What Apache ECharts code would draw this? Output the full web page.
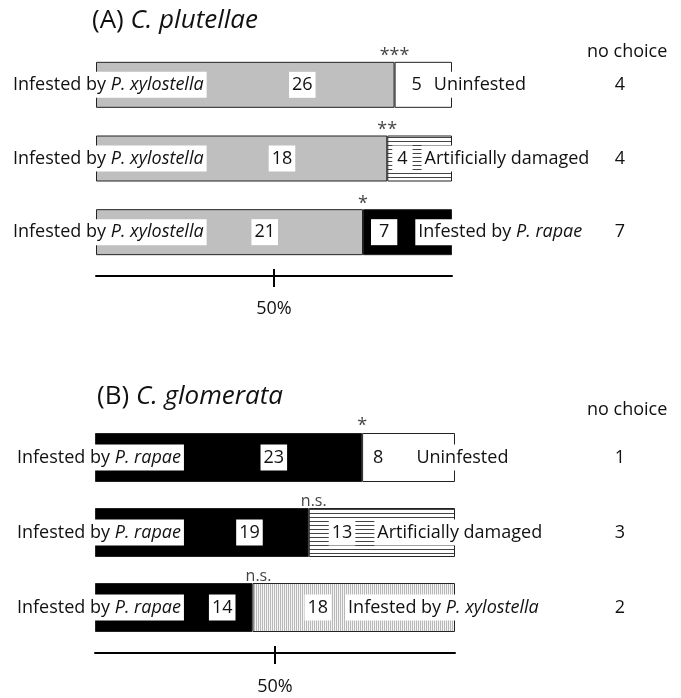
<!DOCTYPE html>
<html><head><meta charset="utf-8">
<script src="https://cdn.jsdelivr.net/npm/echarts@6/dist/echarts.min.js"></script>
<style>html,body{margin:0;padding:0;background:#fff}#c{width:681px;height:698px}</style>
</head><body><div id="c"></div>
<script>
// ---- Panel A: C. plutellae ----
const titleA = ['(A) ', 'C. plutellae'];
const leftNamesA = ['Infested by P. xylostella', 'Infested by P. xylostella', 'Infested by P. xylostella'];
const rightNamesA = ['Uninfested', 'Artificially damaged', 'Infested by P. rapae'];
const leftCountsA = [26, 18, 21];
const rightCountsA = [5, 4, 7];
const noChoiceA = [4, 4, 7];
const sigA = ['***', '**', '*'];
// ---- Panel B: C. glomerata ----
const titleB = ['(B) ', 'C. glomerata'];
const leftNamesB = ['Infested by P. rapae', 'Infested by P. rapae', 'Infested by P. rapae'];
const rightNamesB = ['Uninfested', 'Artificially damaged', 'Infested by P. xylostella'];
const leftCountsB = [23, 19, 14];
const rightCountsB = [8, 13, 18];
const noChoiceB = [1, 3, 2];
const sigB = ['*', 'n.s.', 'n.s.'];
// ---- axis ----
const tickValues = [0.5];
const tickLabels = ['50%'];
const noChoiceHeader = 'no choice';

const FONT = "'Open Sans', sans-serif";
const TXT = '#111';
const FS = 18;

function hatch() {
  const c = document.createElement('canvas'); c.width = 4; c.height = 4;
  const g = c.getContext('2d'); g.fillStyle = '#fff'; g.fillRect(0, 0, 4, 4);
  g.fillStyle = '#444'; g.fillRect(0, 1, 4, 1);
  return { image: c, repeat: 'repeat' };
}
function vstripe() {
  const c = document.createElement('canvas'); c.width = 2; c.height = 2;
  const g = c.getContext('2d'); g.fillStyle = '#f4f4f4'; g.fillRect(0, 0, 2, 2);
  g.fillStyle = '#b8b8b8'; g.fillRect(0, 0, 1, 2);
  return { image: c, repeat: 'repeat' };
}

function richName(name, bg) {
  const m = name.match(/^(.*?)(P\. .*)$/);
  if (m) return bg ? `{br|${m[1]}}{bi|${m[2]}}` : `{r|${m[1]}}{i|${m[2]}}`;
  return bg ? `{bo|${name}}` : `{r|${name}}`;
}
const baseText = { fontFamily: FONT, fontSize: FS, color: TXT, lineHeight: 18 };
const richBase = {
  r: { ...baseText },
  i: { ...baseText, fontStyle: 'italic' },
  n: { ...baseText, backgroundColor: '#fff', padding: [4, 3] },
  g: { ...baseText },
  br: { ...baseText, backgroundColor: '#fff', padding: [4, 0, 4, 3] },
  bi: { ...baseText, fontStyle: 'italic', backgroundColor: '#fff', padding: [4, 3, 4, 0] },
  bo: { ...baseText, backgroundColor: '#fff', padding: [4, 3] }
};

const panels = [
  { title: titleA, left: leftNamesA, right: rightNamesA, lc: leftCountsA, rc: rightCountsA, nc: noChoiceA, sig: sigA,
    grid: { left: 96, width: 356, top: 48, height: 221 }, barW: 46, xOff: 7, nameMargin: 86, ncMargin: 168,
    leftFill: ['#bfbfbf', '#bfbfbf', '#bfbfbf'], rightFill: ['#fff', hatch(), '#000'],
    numDist: [79, 92, 85], rNumDist: [14, 5, 8], rNumPad: [3, 5, 8], gap: [6, 9, 18],
    sigDist: [10, 10, 10], sigOff: [[0, 0], [0, 0], [0, 0]],
    titleTop: 3, titleLeft: 87, ncTop: 38, labelMargin: 24 },
  { title: titleB, left: leftNamesB, right: rightNamesB, lc: leftCountsB, rc: rightCountsB, nc: noChoiceB, sig: sigB,
    grid: { left: 95, width: 360, top: 420, height: 225 }, barW: 49, xOff: 8, nameMargin: 81, ncMargin: 165,
    leftFill: ['#000', '#000', '#000'], rightFill: ['#fff', hatch(), vstripe()],
    numDist: [75, 46, 17], rNumDist: [8, 20, 52], rNumPad: [3, 3, 3], gap: [27, 19, 14],
    sigDist: [12, 12, 12], sigOff: [[0, 0], [5, 0], [6, 0]],
    titleTop: 379, titleLeft: 92, ncTop: 396, labelMargin: 25 }
];

const option = { animation: false, backgroundColor: '#fff', title: [], grid: [], xAxis: [], yAxis: [], series: [] };

panels.forEach((p, k) => {
  const ids = p.lc.map((_, i) => 'p' + k + 'c' + i);
  const lShare = p.lc.map((v, i) => v / (v + p.rc[i]));
  const rShare = p.rc.map((v, i) => v / (p.lc[i] + v));
  option.title.push({
    text: p.title[0] + '{i|' + p.title[1] + '}', left: p.titleLeft, top: p.titleTop,
    textStyle: { fontFamily: FONT, fontSize: 26, fontWeight: 'normal', color: TXT,
      rich: { i: { fontFamily: FONT, fontSize: 26, fontStyle: 'italic', color: TXT } } }
  });
  option.title.push({
    text: noChoiceHeader, left: 582, top: p.ncTop,
    textStyle: { fontFamily: FONT, fontSize: FS, fontWeight: 'normal', color: TXT }
  });
  option.grid.push(p.grid);
  const xa = option.xAxis.length;
  option.xAxis.push({
    type: 'value', gridIndex: k, min: 0, max: 1, offset: p.xOff, position: 'bottom',
    axisLine: { show: true, lineStyle: { color: '#000', width: 2 } },
    axisTick: { show: true, customValues: tickValues, length: 11, lineStyle: { color: '#000', width: 2 } },
    axisLabel: { show: true, customValues: tickValues, margin: p.labelMargin, fontFamily: FONT, fontSize: FS, color: TXT,
      formatter: (v) => tickLabels[tickValues.indexOf(v)] ?? '' },
    splitLine: { show: false }
  });
  option.xAxis.push({
    type: 'value', gridIndex: k, min: 0, max: 1, offset: p.xOff, position: 'bottom',
    axisLine: { show: false },
    axisTick: { show: true, inside: true, customValues: tickValues, length: 7, lineStyle: { color: '#000', width: 2 } },
    axisLabel: { show: false }, splitLine: { show: false }
  });
  const ya = option.yAxis.length;
  option.yAxis.push({
    type: 'category', gridIndex: k, data: ids, inverse: true, z: 5,
    axisLine: { show: false }, axisTick: { show: false },
    axisLabel: { align: 'left', margin: p.nameMargin, backgroundColor: '#fff', padding: [4, 3],
      formatter: (v, i) => richName(p.left[i], false), rich: richBase }
  });
  option.yAxis.push({
    type: 'category', gridIndex: k, data: ids, inverse: true, position: 'right',
    axisLine: { show: false }, axisTick: { show: false },
    axisLabel: { align: 'center', margin: p.ncMargin, fontFamily: FONT, fontSize: FS, color: TXT,
      formatter: (v, i) => String(p.nc[i]) }
  });
  const border = { borderColor: '#222', borderWidth: 1 };
  option.series.push({
    type: 'bar', xAxisIndex: xa, yAxisIndex: ya, stack: 's' + k, barWidth: p.barW, z: 2,
    data: lShare.map((v, i) => ({
      value: v, itemStyle: { color: p.leftFill[i], ...border },
      label: { show: true, position: 'insideRight', distance: p.numDist[i],
        formatter: `{n|${p.lc[i]}}`, rich: richBase }
    }))
  });
  option.series.push({
    type: 'bar', xAxisIndex: xa, yAxisIndex: ya, stack: 's' + k, barWidth: p.barW, z: 2,
    data: rShare.map((v, i) => ({
      value: v, itemStyle: { color: p.rightFill[i], ...border },
      label: { show: true, position: 'insideLeft', distance: p.rNumDist[i],
        formatter: `{n|${p.rc[i]}}{g| }` + richName(p.right[i], true),
        rich: { ...richBase, n: { ...richBase.n, padding: [4, p.rNumPad[i]] }, g: { ...baseText, width: p.gap[i] } } }
    }))
  });
  option.series.push({
    type: 'scatter', xAxisIndex: xa, yAxisIndex: ya, symbolSize: 1, z: 6,
    itemStyle: { color: 'rgba(0,0,0,0)' },
    data: lShare.map((v, i) => ({
      value: [v, i],
      label: { show: true, position: 'top', distance: p.barW / 2 + p.sigDist[i] - 14, offset: p.sigOff[i],
        formatter: p.sig[i], fontFamily: FONT, fontSize: p.sig[i] === 'n.s.' ? 16 : 18, color: TXT }
    }))
  });
});

const chart = echarts.init(document.getElementById('c'), null, { renderer: 'canvas' });
chart.setOption(option);
</script>
</body></html>
